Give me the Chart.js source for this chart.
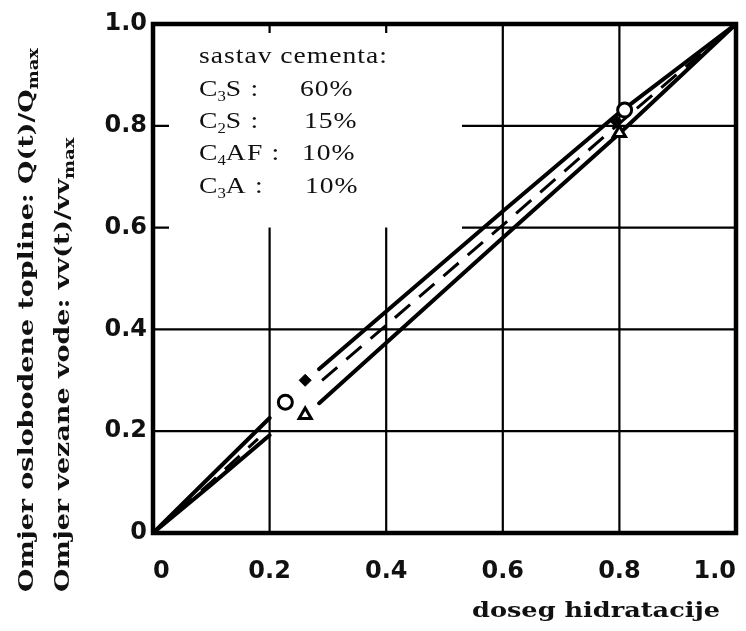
<!DOCTYPE html>
<html><head><meta charset="utf-8">
<script src="https://cdn.jsdelivr.net/npm/chart.js@4"></script>
<style>html,body{margin:0;padding:0;background:#fff}#wrap{width:746px;height:631px;position:relative}</style>
</head><body><div id="wrap"><canvas id="c"></canvas></div>
<script>
// ---- data ----
const tickValues = [0, 0.2, 0.4, 0.6, 0.8, 1.0];
const tickLabels = ['0', '0.2', '0.4', '0.6', '0.8', '1.0'];

const upperX = [0, 0.1, 0.2, 0.24, 0.285, 0.6, 0.8, 1.0];
const upperY = [0, 0.113, 0.226, null, 0.322, 0.632, 0.826, 1.0];

const dashedX = [0, 0.1, 0.18, 0.24, 0.29, 0.6, 0.8, 1.0];
const dashedY = [0, 0.1, 0.185, null, 0.3, 0.605, 0.805, 1.0];

const lowerX = [0, 0.1, 0.2, 0.24, 0.285, 0.6, 0.8, 1.0];
const lowerY = [0, 0.095, 0.192, null, 0.255, 0.58, 0.785, 1.0];

const circleX = [0.227, 0.809];
const circleY = [0.257, 0.831];
const diamondX = [0.261, 0.795];
const diamondY = [0.300, 0.808];
const triangleX = [0.261, 0.800];
const triangleY = [0.232, 0.786];

const legendTitle = 'sastav cementa:';
const compBase = ['C', 'C', 'C', 'C'];
const compSub = ['3', '2', '4', '3'];
const compRest = ['S :', 'S :', 'AF :', 'A :'];
const compValues = ['60%', '15%', '10%', '10%'];

const xTitle = 'doseg hidratacije';
const yTitle1 = 'Omjer oslobodene topline: Q(t)/Q';
const yTitle2 = 'Omjer vezane vode: vv(t)/vv';
const ySub = 'max';

function pts(xs, ys) { return xs.map((x, i) => ({ x: x, y: ys[i] })); }

// ---- plugin for frame, partial grid, and texts ----
const paper = {
  id: 'paper',
  beforeDatasetsDraw(chart) {
    const ctx = chart.ctx, xs = chart.scales.x, ys = chart.scales.y;
    const X = v => xs.getPixelForValue(v), Y = v => ys.getPixelForValue(v);
    ctx.save();
    ctx.strokeStyle = '#000';
    ctx.lineWidth = 2.2;
    ctx.beginPath();
    [0.2, 0.4].forEach(v => { ctx.moveTo(X(0), Y(v)); ctx.lineTo(X(1), Y(v)); });
    [0.6, 0.8].forEach(v => {
      ctx.moveTo(X(0.53), Y(v)); ctx.lineTo(X(1), Y(v));
      ctx.moveTo(X(0), Y(v)); ctx.lineTo(X(0) + 16, Y(v));
    });
    [0.6, 0.8].forEach(v => { ctx.moveTo(X(v), Y(0)); ctx.lineTo(X(v), Y(1)); });
    [0.2, 0.4].forEach(v => {
      ctx.moveTo(X(v), Y(0)); ctx.lineTo(X(v), Y(0.6));
      ctx.moveTo(X(v), Y(1)); ctx.lineTo(X(v), Y(1) + 9);
    });
    ctx.stroke();
    ctx.lineWidth = 4.5;
    ctx.strokeRect(X(0), Y(1), X(1) - X(0), Y(0) - Y(1));
    ctx.restore();
  },
  afterDraw(chart) {
    const ctx = chart.ctx;
    ctx.save();
    ctx.fillStyle = '#111';
    const SX = 1.2;
    function spaced(t, x, y, sp) {
      for (const ch of t) {
        ctx.save(); ctx.translate(x, y); ctx.scale(SX, 1); ctx.fillText(ch, 0, 0); ctx.restore();
        x += ctx.measureText(ch).width * SX + sp;
      }
      return x;
    }
    ctx.textBaseline = 'alphabetic';
    ctx.textAlign = 'left';
    const F = '23px "Liberation Serif"', FS = '14px "Liberation Serif"';
    ctx.font = F;
    spaced(legendTitle, 199, 63, 1.0);
    const baselines = [96, 128, 160, 193];
    const valX = [300, 304, 302, 305];
    for (let i = 0; i < 4; i++) {
      const b = baselines[i];
      ctx.font = F;
      let x = spaced(compBase[i], 199, b, 0);
      ctx.font = FS;
      x = spaced(compSub[i], x, b + 5, 0);
      ctx.font = F;
      spaced(compRest[i], x, b, 1.2);
      spaced(compValues[i], valX[i], b, 1.0);
    }
    // x title
    ctx.font = 'bold 21px "DejaVu Serif"';
    const wx = ctx.measureText(xTitle).width;
    ctx.save();
    ctx.translate(472, 617);
    ctx.scale(248 / wx, 1);
    ctx.fillText(xTitle, 0, 0);
    ctx.restore();
    // y titles (rotated)
    const mainF = 'bold 21px "DejaVu Serif"', subF = 'bold 14px "DejaVu Serif"';
    ctx.font = mainF;
    const w1 = ctx.measureText(yTitle1).width;
    ctx.font = subF;
    const ws = ctx.measureText(ySub).width;
    const s = 544 / (w1 + ws);
    function ytitle(t, bx) {
      ctx.save();
      ctx.translate(bx, 592);
      ctx.rotate(-Math.PI / 2);
      ctx.scale(s, 1);
      ctx.font = mainF;
      ctx.fillText(t, 0, 0);
      const w = ctx.measureText(t).width;
      ctx.font = subF;
      ctx.fillText(ySub, w, 5);
      ctx.restore();
    }
    ytitle(yTitle1, 33);
    ytitle(yTitle2, 69);
    ctx.restore();
  }
};

const tickFont = { family: '"DejaVu Sans"', size: 24, weight: 'bold' };

new Chart(document.getElementById('c'), {
  type: 'scatter',
  data: {
    datasets: [
      { data: pts(upperX, upperY), showLine: true, borderColor: '#000', borderWidth: 4, pointRadius: 0, borderCapStyle: 'round', borderJoinStyle: 'round', spanGaps: false, order: 5 },
      { data: pts(dashedX, dashedY), showLine: true, borderColor: '#000', borderWidth: 3, borderDash: [20, 12], pointRadius: 0, spanGaps: false, order: 5 },
      { data: pts(lowerX, lowerY), showLine: true, borderColor: '#000', borderWidth: 4, pointRadius: 0, borderCapStyle: 'round', borderJoinStyle: 'round', spanGaps: false, order: 5 },
      { data: pts(circleX, circleY), showLine: false, pointStyle: 'circle', pointRadius: 7, pointBorderWidth: 3, pointBackgroundColor: '#fff', pointBorderColor: '#000', order: 1 },
      { data: pts(diamondX, diamondY), showLine: false, pointStyle: 'rectRot', pointRadius: 6, pointBorderWidth: 1, pointBackgroundColor: '#000', pointBorderColor: '#000', order: 1 },
      { data: pts(triangleX, triangleY), showLine: false, pointStyle: 'triangle', pointRadius: 7, pointBorderWidth: 3, pointBackgroundColor: '#fff', pointBorderColor: '#000', order: 1 }
    ]
  },
  options: {
    responsive: true,
    maintainAspectRatio: false,
    animation: false,
    devicePixelRatio: 1,
    layout: { padding: { top: 24, right: 7, left: 0, bottom: 0 } },
    plugins: { legend: { display: false }, tooltip: { enabled: false } },
    scales: {
      x: {
        type: 'linear', min: 0, max: 1,
        afterBuildTicks: sc => { sc.ticks = tickValues.map(v => ({ value: v })); },
        afterFit: sc => { sc.height = 98; sc.paddingLeft = 0; sc.paddingRight = 0; },
        grid: { display: false, drawTicks: false },
        border: { display: false },
        ticks: { color: '#111', font: tickFont, padding: 24, align: 'inner', maxRotation: 0,
          callback: (v) => tickLabels[tickValues.indexOf(Math.round(v * 10) / 10)] }
      },
      y: {
        type: 'linear', min: 0, max: 1,
        afterBuildTicks: sc => { sc.ticks = tickValues.map(v => ({ value: v })); },
        afterFit: sc => { sc.width = 153; sc.paddingTop = 0; sc.paddingBottom = 0; },
        grid: { display: false, drawTicks: false },
        border: { display: false },
        ticks: { color: '#111', font: tickFont, padding: 6,
          callback: (v) => tickLabels[tickValues.indexOf(Math.round(v * 10) / 10)] }
      }
    }
  },
  plugins: [paper]
});
</script>
</body></html>
